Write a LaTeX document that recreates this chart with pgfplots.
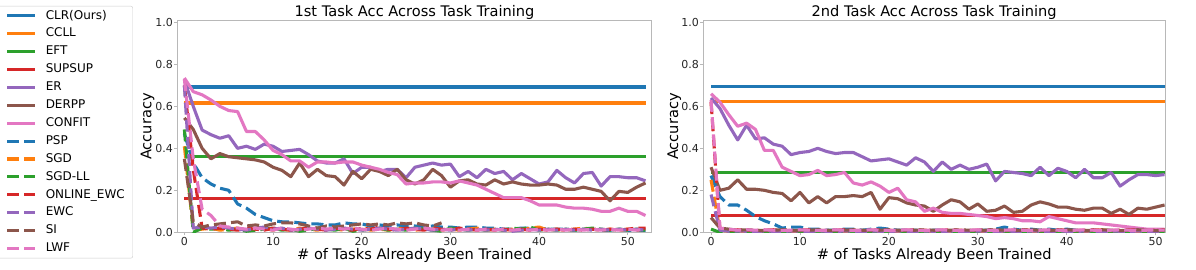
\documentclass[border=0pt]{standalone}
\usepackage{fontspec}
\setmainfont{DejaVu Sans}
\usepackage{pgfplots}
\usepackage{pgfplotstable}
\pgfplotsset{compat=1.18}

\definecolor{c0}{HTML}{1F77B4}
\definecolor{c1}{HTML}{FF7F0E}
\definecolor{c2}{HTML}{2CA02C}
\definecolor{c3}{HTML}{D62728}
\definecolor{c4}{HTML}{9467BD}
\definecolor{c5}{HTML}{8C564B}
\definecolor{c6}{HTML}{E377C2}
\definecolor{framec}{HTML}{B8B8B8}

% x er derpp confit psp sgd sgdll oewc ewc si lwf
\pgfplotstableread{
x er derpp confit psp sgd sgdll oewc ewc si lwf
0 0.725 0.545 0.735 0.47 0.41 0.49 0.70 0.70 0.35 0.73
1 0.60 0.49 0.67 0.33 0.01 0.00 0.30 0.02 0.05 0.35
2 0.487 0.40 0.655 0.26 0.015 0.02 0.02 0.025 0.025 0.11
3 0.465 0.35 0.63 0.23 0.02 0.015 0.015 0.02 0.035 0.08
4 0.448 0.375 0.60 0.21 0.01 0.02 0.02 0.025 0.04 0.03
5 0.46 0.36 0.58 0.20 0.015 0.01 0.015 0.02 0.045 0.025
6 0.40 0.355 0.575 0.135 0.02 0.015 0.01 0.015 0.05 0.02
7 0.41 0.35 0.48 0.115 0.01 0.005 0.02 0.01 0.03 0.015
8 0.395 0.345 0.48 0.085 0.015 0.01 0.015 0.02 0.035 0.02
9 0.42 0.335 0.44 0.07 0.02 0.015 0.01 0.025 0.03 0.015
10 0.41 0.31 0.39 0.055 0.01 0.02 0.02 0.015 0.04 0.01
11 0.385 0.295 0.37 0.05 0.015 0.01 0.015 0.02 0.045 0.02
12 0.39 0.265 0.34 0.05 0.01 0.015 0.01 0.01 0.045 0.015
13 0.395 0.33 0.34 0.045 0.02 0.005 0.015 0.015 0.04 0.01
14 0.37 0.265 0.31 0.04 0.015 0.01 0.02 0.02 0.03 0.015
15 0.34 0.30 0.335 0.04 0.01 0.02 0.015 0.015 0.02 0.02
16 0.33 0.27 0.335 0.035 0.02 0.015 0.01 0.01 0.03 0.015
17 0.33 0.265 0.33 0.035 0.015 0.01 0.02 0.015 0.025 0.02
18 0.35 0.225 0.335 0.045 0.01 0.02 0.015 0.02 0.03 0.015
19 0.28 0.29 0.335 0.04 0.015 0.005 0.01 0.015 0.035 0.02
20 0.31 0.255 0.32 0.04 0.02 0.01 0.02 0.01 0.04 0.015
21 0.31 0.30 0.31 0.03 0.01 0.015 0.015 0.015 0.035 0.01
22 0.29 0.29 0.30 0.035 0.015 0.02 0.025 0.02 0.04 0.015
23 0.30 0.27 0.285 0.03 0.01 0.01 0.015 0.015 0.035 0.02
24 0.30 0.30 0.275 0.035 0.02 0.015 0.01 0.01 0.045 0.015
25 0.26 0.25 0.23 0.03 0.015 0.01 0.02 0.015 0.04 0.01
26 0.31 0.23 0.235 0.03 0.01 0.02 0.015 0.02 0.045 0.015
27 0.32 0.25 0.235 0.025 0.015 0.015 0.01 0.015 0.035 0.02
28 0.33 0.30 0.24 0.03 0.02 0.01 0.02 0.01 0.03 0.015
29 0.32 0.27 0.24 0.025 0.01 0.005 0.015 0.015 0.045 0.01
30 0.325 0.215 0.235 0.025 0.015 0.02 0.01 0.01 nan 0.015
31 0.265 0.245 0.245 0.02 0.01 0.015 0.02 0.015 nan 0.01
32 0.29 0.25 0.235 0.025 0.015 0.01 0.015 0.01 nan 0.015
33 0.26 0.23 0.225 0.025 0.02 0.015 0.01 0.015 nan 0.01
34 0.30 0.225 0.205 0.02 0.01 0.01 0.015 0.01 nan 0.015
35 0.28 0.25 0.185 0.02 0.015 0.015 0.01 0.015 nan 0.01
36 0.29 0.23 0.165 0.015 0.01 0.01 0.015 0.01 nan 0.015
37 0.25 0.24 0.165 0.015 0.015 0.02 0.01 0.005 nan 0.01
38 0.28 0.23 0.165 0.02 0.01 0.015 0.015 0.01 nan 0.015
39 0.255 0.225 0.15 0.02 0.02 0.025 0.01 0.015 nan 0.01
40 0.23 0.225 0.13 0.02 0.025 0.01 0.015 0.01 nan 0.015
41 0.24 0.23 0.13 0.015 0.01 0.015 0.01 0.015 nan 0.01
42 0.295 0.225 0.13 0.015 0.015 0.01 0.015 0.01 nan 0.015
43 0.26 0.205 0.12 0.015 0.01 0.015 0.01 0.015 nan 0.01
44 0.235 0.205 0.115 0.01 0.015 0.01 0.015 0.01 nan 0.015
45 0.28 0.215 0.115 0.015 0.02 0.015 0.01 0.015 nan 0.01
46 0.285 0.205 0.11 0.015 0.015 0.02 0.015 0.01 nan 0.015
47 0.22 0.195 0.10 0.01 0.01 0.015 0.01 0.015 nan 0.01
48 0.265 0.15 0.10 0.01 0.015 0.01 0.015 0.01 nan 0.015
49 0.265 0.195 0.115 0.015 0.01 0.015 0.01 0.015 nan 0.01
50 0.26 0.19 0.10 0.01 0.015 0.01 0.015 0.01 nan 0.015
51 0.26 0.215 0.10 0.01 0.01 0.015 0.02 0.015 nan 0.01
52 0.245 0.235 0.08 0.01 0.015 0.01 0.02 0.01 nan 0.015
}\lefttab

\pgfplotstableread{
x er derpp confit psp sgd sgdll oewc ewc si lwf
0 0.64 0.31 0.66 0.27 0.25 0.015 0.62 0.18 0.07 0.63
1 0.59 0.20 0.62 0.17 0.01 0.0 0.015 0.01 0.02 0.02
2 0.51 0.21 0.56 0.13 0.005 0.002 0.01 0.005 0.015 0.015
3 0.44 0.25 0.505 0.13 0.006 0.002 0.012 0.006 0.01 0.01
4 0.51 0.205 0.52 0.105 0.004 0.003 0.01 0.005 0.012 0.012
5 0.445 0.205 0.49 0.075 0.006 0.002 0.008 0.004 0.01 0.01
6 0.45 0.20 0.39 0.055 0.005 0.003 0.01 0.006 0.008 0.012
7 0.42 0.19 0.39 0.04 0.004 0.002 0.012 0.005 0.01 0.01
8 0.41 0.185 0.31 0.02 0.006 0.003 0.01 0.004 0.012 0.008
9 0.37 0.15 0.29 0.025 0.005 0.002 0.008 0.006 0.01 0.01
10 0.38 0.19 0.27 0.025 0.004 0.003 0.01 0.005 0.008 0.012
11 0.385 0.14 0.275 0.015 0.006 0.002 0.012 0.004 0.01 0.01
12 0.40 0.17 0.295 0.015 0.005 0.003 0.01 0.006 0.012 0.008
13 0.385 0.14 0.27 0.01 0.004 0.002 0.008 0.005 0.01 0.01
14 0.375 0.17 0.275 0.01 0.006 0.003 0.01 0.004 0.008 0.012
15 0.38 0.17 0.285 0.015 0.005 0.002 0.012 0.006 0.01 0.01
16 0.38 0.175 0.235 0.015 0.004 0.003 0.01 0.005 0.012 0.008
17 0.36 0.17 0.225 0.01 0.006 0.002 0.008 0.004 0.01 0.01
18 0.34 0.19 0.24 0.015 0.005 0.003 0.01 0.006 0.008 0.012
19 0.345 0.11 0.22 0.02 0.004 0.002 0.012 0.005 0.01 0.01
20 0.35 0.165 0.19 0.015 0.006 0.003 0.01 0.004 0.012 0.008
21 0.335 0.16 0.21 0.01 0.005 0.002 0.008 0.006 0.01 0.01
22 0.32 0.14 0.155 0.01 0.004 0.003 0.01 0.005 0.008 0.012
23 0.355 0.13 0.145 0.01 0.006 0.002 0.012 0.004 0.01 0.01
24 0.335 0.125 0.10 0.005 0.005 0.003 0.01 0.006 0.012 0.008
25 0.29 0.10 0.115 0.01 0.004 0.002 0.008 0.005 0.01 0.01
26 0.335 0.13 0.095 0.01 0.006 0.003 0.01 0.004 0.008 0.012
27 0.30 0.155 0.09 0.005 0.005 0.002 0.012 0.006 0.01 0.01
28 0.32 0.145 0.09 0.01 0.004 0.003 0.01 0.005 0.012 0.008
29 0.30 0.11 0.085 0.005 0.006 0.002 0.008 0.004 0.01 0.01
30 0.31 0.135 0.08 0.01 0.005 0.003 0.01 0.006 0.008 0.012
31 0.325 0.10 0.075 0.01 0.004 0.002 0.012 0.005 0.01 0.01
32 0.245 0.105 0.065 0.015 0.006 0.003 0.01 0.004 0.012 0.008
33 0.29 0.125 0.07 0.025 0.005 0.002 0.008 0.006 0.01 0.01
34 0.285 0.095 0.065 0.015 0.004 0.003 0.01 0.005 0.008 0.012
35 0.28 0.10 0.055 0.01 0.006 0.002 0.012 0.004 0.01 0.01
36 0.27 0.13 0.055 0.015 0.005 0.003 0.01 0.006 0.012 0.008
37 0.31 0.145 0.05 0.01 0.004 0.002 0.008 0.005 0.01 0.01
38 0.27 0.135 0.075 0.015 0.006 0.003 0.01 0.004 0.008 0.012
39 0.305 0.12 0.065 0.01 0.005 0.002 0.012 0.006 0.01 0.01
40 0.29 0.12 0.055 0.015 0.004 0.003 0.01 0.005 0.012 0.008
41 0.26 0.11 0.045 0.01 0.006 0.002 0.008 0.004 0.01 0.01
42 0.30 0.105 0.045 0.005 0.005 0.003 0.01 0.006 0.008 0.012
43 0.26 0.115 0.045 0.01 0.004 0.002 0.012 0.005 0.01 0.01
44 0.26 0.115 0.04 0.005 0.012 0.003 0.01 0.004 0.012 0.008
45 0.285 0.09 0.035 0.01 0.005 0.002 0.008 0.006 0.01 0.01
46 0.22 0.11 0.03 0.005 0.004 0.003 0.01 0.005 0.008 0.012
47 0.25 0.085 0.025 0.01 0.006 0.002 0.012 0.004 0.01 0.01
48 0.275 0.115 0.02 0.01 0.005 0.003 0.01 0.006 0.012 0.008
49 0.275 0.11 0.015 0.005 0.004 0.002 0.008 0.005 0.01 0.01
50 0.27 0.12 0.015 0.005 0.006 0.003 0.01 0.004 0.008 0.012
51 0.275 0.13 0.015 0.005 0.005 0.002 0.012 0.006 0.01 0.01
}\righttab

\pgfplotsset{
  myax/.style={
    scale only axis, height=211.6pt, ymin=0, ymax=1.008,
    ytick={0,0.2,0.4,0.6,0.8,1.0},
    xtick={0,10,20,30,40,50},
    yticklabel style={/pgf/number format/fixed,/pgf/number format/fixed zerofill,/pgf/number format/precision=1, inner xsep=1.2pt},
    xticklabel style={inner ysep=1.7pt},
    /pgf/number format/assume math mode=true,
    ticklabel style={font=\fontsize{11}{13}\selectfont, text=black!85},
    tick align=outside, major tick length=3pt,
    tick style={framec, line width=0.8pt},
    axis line style={framec, line width=0.8pt},
    xtick pos=bottom, ytick pos=left,
    every axis title/.style={font=\fontsize{14.6}{16}\selectfont, at={(axis description cs:0.5,1.0175)}, anchor=base},
    xlabel={\# of Tasks Already Been Trained},
    ylabel={Accuracy},
    label style={font=\fontsize{14.6}{16}\selectfont},
    xlabel style={at={(axis description cs:0.5,-0.129)}, anchor=base},
    ylabel style={at={(axis description cs:-0.0544,0.5)}, anchor=base},
    every axis plot/.append style={line join=round},
    legend image code/.code={\draw[##1] (0pt,0pt) -- (28pt,0pt);},
  },
  s/.style={line width=3.1pt, color=#1, solid},
  d/.style={line width=3.1pt, color=#1, dash pattern=on 12pt off 5.2pt},
}

\begin{document}
\begin{tikzpicture}
\path[use as bounding box] (0,0) rectangle (1196pt,270pt);
\begin{axis}[myax, at={(177.3pt,37.7pt)}, anchor=south west, width=474.4pt,
  xmin=-0.8, xmax=52.7,
  title={1st Task Acc Across Task Training},
  legend style={at={(-0.0934,1.0695)}, anchor=north east,
    draw=black!20, rounded corners=2pt, fill=white,
    font=\fontsize{12}{13}\selectfont,
    nodes={inner sep=0pt, text height=9pt, text depth=2.5pt},
    row sep=6.4pt, column sep=9pt, inner xsep=8pt, inner ysep=3.9pt},
  legend cell align=left]
\addplot[s=c0] coordinates {(0,0.692) (52,0.692)};
\addlegendentry{CLR(Ours)}
\addplot[s=c1] coordinates {(0,0.616) (52,0.616)};
\addlegendentry{CCLL}
\addplot[s=c2] coordinates {(0,0.360) (52,0.360)};
\addlegendentry{EFT}
\addplot[s=c3] coordinates {(0,0.162) (52,0.162)};
\addlegendentry{SUPSUP}
\addplot[s=c4] table[x=x,y=er] {\lefttab};
\addlegendentry{ER}
\addplot[s=c5] table[x=x,y=derpp] {\lefttab};
\addlegendentry{DERPP}
\addplot[s=c6] table[x=x,y=confit] {\lefttab};
\addlegendentry{CONFIT}
\addplot[d=c0] table[x=x,y=psp] {\lefttab};
\addlegendentry{PSP}
\addplot[d=c1] table[x=x,y=sgd] {\lefttab};
\addlegendentry{SGD}
\addplot[d=c2] table[x=x,y=sgdll] {\lefttab};
\addlegendentry{SGD-LL}
\addplot[d=c3] table[x=x,y=oewc] {\lefttab};
\addlegendentry{ONLINE\_EWC}
\addplot[d=c4] table[x=x,y=ewc] {\lefttab};
\addlegendentry{EWC}
\addplot[d=c5] table[x=x,y=si] {\lefttab};
\addlegendentry{SI}
\addplot[d=c6] table[x=x,y=lwf] {\lefttab};
\addlegendentry{LWF}
\end{axis}
\begin{axis}[myax, at={(703.3pt,37.7pt)}, anchor=south west, width=461.7pt,
  xmin=-0.87, xmax=51.05,
  title={2nd Task Acc Across Task Training}]
\addplot[s=c0] coordinates {(0,0.695) (51,0.695)};
\addplot[s=c1] coordinates {(0,0.622) (51,0.622)};
\addplot[s=c2] coordinates {(0,0.286) (51,0.286)};
\addplot[s=c3] coordinates {(0,0.081) (51,0.081)};
\addplot[s=c4] table[x=x,y=er] {\righttab};
\addplot[s=c5] table[x=x,y=derpp] {\righttab};
\addplot[s=c6] table[x=x,y=confit] {\righttab};
\addplot[d=c0] table[x=x,y=psp] {\righttab};
\addplot[d=c1] table[x=x,y=sgd] {\righttab};
\addplot[d=c2] table[x=x,y=sgdll] {\righttab};
\addplot[d=c3] table[x=x,y=oewc] {\righttab};
\addplot[d=c4] table[x=x,y=ewc] {\righttab};
\addplot[d=c5] table[x=x,y=si] {\righttab};
\addplot[d=c6] table[x=x,y=lwf] {\righttab};
\end{axis}
\end{tikzpicture}
\end{document}
